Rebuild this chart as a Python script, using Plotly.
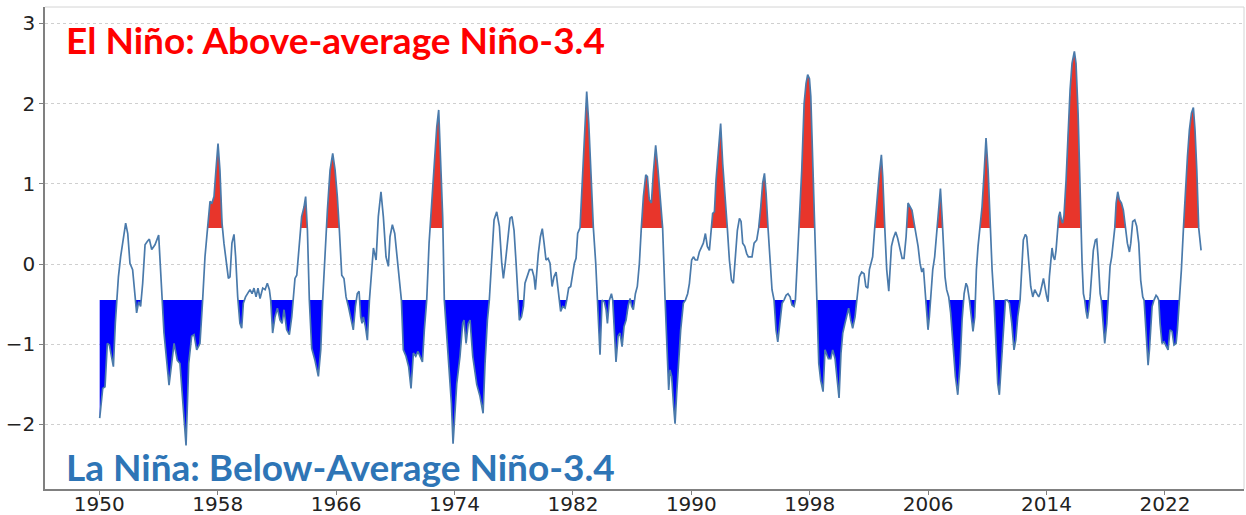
import numpy as np
import plotly.graph_objects as go

# Monthly-ish Niño-3.4 anomaly (°C), read in six stretches
years_a = [1950.025, 1950.23, 1950.385, 1950.54, 1950.68, 1950.95, 1951.08, 1951.29, 1951.44, 1951.58,
           1951.78, 1951.92, 1952.07, 1952.25, 1952.39, 1952.52, 1952.66, 1952.79, 1952.93, 1953.09,
           1953.24, 1953.38, 1953.54, 1953.76, 1954.01, 1954.1, 1954.24, 1954.37, 1954.71, 1954.89,
           1955.05, 1955.27, 1955.45, 1955.86, 1956.04, 1956.24, 1956.4, 1956.58, 1956.8, 1956.98,
           1957.14, 1957.3, 1957.48, 1957.61, 1957.75, 1957.88, 1958.02, 1958.15, 1958.29, 1958.42,
           1958.6, 1958.72, 1958.83, 1958.96, 1959.1, 1959.21, 1959.35, 1959.5, 1959.62, 1959.73,
           1959.88, 1959.99, 1960.18, 1960.32, 1960.45, 1960.59, 1960.72, 1960.86, 1961.04, 1961.2,
           1961.35, 1961.49, 1961.58, 1961.71, 1961.87, 1962.03, 1962.21, 1962.35, 1962.48, 1962.66,
           1962.84]
anom_a = [-1.92, -1.55, -1.53, -0.99, -1.01, -1.28, -0.74, -0.16, 0.09, 0.26,
          0.51, 0.38, 0.01, -0.07, -0.41, -0.61, -0.47, -0.53, -0.24, 0.24,
          0.28, 0.31, 0.18, 0.24, 0.36, 0.01, -0.45, -0.86, -1.51, -1.20,
          -0.99, -1.20, -1.24, -2.26, -1.24, -0.90, -0.88, -1.07, -0.99, -0.45,
          0.09, 0.42, 0.78, 0.76, 0.84, 1.17, 1.50, 1.17, 0.51, 0.26,
          -0.03, -0.18, -0.16, 0.26, 0.37, 0.09, -0.41, -0.74, -0.80, -0.49,
          -0.41, -0.37, -0.32, -0.37, -0.30, -0.41, -0.30, -0.43, -0.30, -0.32,
          -0.24, -0.32, -0.45, -0.86, -0.66, -0.55, -0.70, -0.74, -0.57, -0.82,
          -0.88]

years_b = [1963.0, 1963.11, 1963.22, 1963.34, 1963.45, 1963.56, 1963.67, 1963.83, 1963.94, 1964.06,
           1964.19, 1964.35, 1964.57, 1964.8, 1964.96, 1965.09, 1965.25, 1965.41, 1965.59, 1965.77,
           1965.93, 1966.08, 1966.22, 1966.38, 1966.53, 1966.67, 1966.83, 1966.98, 1967.16, 1967.3,
           1967.43, 1967.55, 1967.66, 1967.75, 1967.84, 1967.98, 1968.11, 1968.25, 1968.38, 1968.52,
           1968.7, 1968.85, 1969.03, 1969.19, 1969.37, 1969.53, 1969.64, 1969.8, 1969.96, 1970.14,
           1970.27, 1970.41, 1970.54, 1970.72, 1970.9, 1971.06, 1971.22, 1971.38, 1971.53, 1971.67,
           1971.83, 1971.96, 1972.12, 1972.28, 1972.46, 1972.62, 1972.8, 1972.93, 1973.07, 1973.2,
           1973.31, 1973.47, 1973.65, 1973.79, 1973.9, 1974.01, 1974.15, 1974.37, 1974.55, 1974.64,
           1974.78, 1974.93, 1975.05, 1975.23, 1975.5]
anom_b = [-0.66, -0.41, -0.18, -0.14, 0.09, 0.42, 0.59, 0.71, 0.84, 0.42,
          -0.45, -1.05, -1.20, -1.40, -1.07, -0.45, 0.17, 0.67, 1.17, 1.38,
          1.17, 0.84, 0.42, -0.14, -0.18, -0.41, -0.53, -0.66, -0.82, -0.53,
          -0.37, -0.34, -0.66, -0.74, -0.66, -0.78, -0.95, -0.45, -0.07, 0.20,
          0.05, 0.59, 0.90, 0.59, 0.09, -0.03, 0.34, 0.49, 0.38, 0.01,
          -0.24, -0.45, -1.07, -1.15, -1.28, -1.55, -1.11, -1.15, -1.09, -1.15,
          -1.22, -0.82, -0.45, 0.26, 0.80, 1.25, 1.71, 1.92, 1.25, 0.59,
          -0.45, -0.90, -1.28, -1.74, -2.24, -1.86, -1.49, -1.15, -0.74, -0.70,
          -0.99, -0.74, -0.70, -1.15, -1.50]

years_c = [1975.72, 1975.93, 1976.06, 1976.22, 1976.35, 1976.51, 1976.67, 1976.85, 1977.03, 1977.19,
           1977.3, 1977.43, 1977.57, 1977.75, 1977.88, 1978.02, 1978.16, 1978.27, 1978.38, 1978.52,
           1978.65, 1978.76, 1978.92, 1979.06, 1979.24, 1979.37, 1979.46, 1979.55, 1979.66, 1979.8,
           1979.93, 1980.05, 1980.18, 1980.32, 1980.45, 1980.59, 1980.72, 1980.86, 1980.99, 1981.08,
           1981.17, 1981.31, 1981.47, 1981.58, 1981.71, 1981.85, 1981.96, 1982.1, 1982.21, 1982.32,
           1982.48, 1982.61, 1982.75, 1982.93, 1983.07, 1983.22, 1983.38, 1983.54, 1983.65, 1983.83,
           1983.97, 1984.12, 1984.24, 1984.33, 1984.46, 1984.6, 1984.69, 1984.8, 1984.91, 1985.05,
           1985.18, 1985.32, 1985.45, 1985.59, 1985.72, 1985.86, 1985.97, 1986.08, 1986.22, 1986.35,
           1986.49, 1986.62, 1986.76, 1986.92, 1987.03, 1987.16, 1987.3, 1987.43, 1987.59, 1987.75,
           1987.93, 1988.06, 1988.22, 1988.38, 1988.47]
anom_c = [-1.65, -1.86, -1.24, -0.70, -0.45, 0.09, 0.55, 0.65, 0.47, 0.01,
          -0.18, 0.01, 0.26, 0.57, 0.59, 0.42, 0.01, -0.45, -0.70, -0.66,
          -0.53, -0.24, -0.14, -0.07, -0.07, -0.16, -0.32, -0.07, 0.13, 0.34,
          0.44, 0.26, 0.05, 0.07, 0.01, -0.28, -0.16, -0.10, -0.28, -0.45,
          -0.59, -0.53, -0.55, -0.45, -0.30, -0.28, -0.16, 0.01, 0.07, 0.38,
          0.45, 0.92, 1.59, 2.15, 1.75, 1.09, 0.45, 0.01, -0.45, -1.13,
          -0.45, -0.47, -0.57, -0.74, -0.45, -0.37, -0.45, -0.82, -1.22, -0.90,
          -0.86, -1.03, -0.78, -0.70, -0.53, -0.43, -0.53, -0.57, -0.37, -0.28,
          0.01, 0.45, 0.84, 1.11, 1.09, 0.80, 0.76, 1.13, 1.48, 1.17,
          0.76, 0.45, -0.41, -1.24, -1.57]

years_d = [1988.56, 1988.67, 1988.79, 1988.9, 1989.01, 1989.15, 1989.28, 1989.46, 1989.6, 1989.75,
           1989.87, 1990.02, 1990.14, 1990.27, 1990.41, 1990.54, 1990.68, 1990.81, 1990.95, 1991.08,
           1991.22, 1991.31, 1991.44, 1991.56, 1991.67, 1991.85, 1991.98, 1992.12, 1992.28, 1992.43,
           1992.57, 1992.71, 1992.84, 1992.98, 1993.11, 1993.25, 1993.36, 1993.47, 1993.61, 1993.74,
           1993.85, 1994.1, 1994.24, 1994.42, 1994.55, 1994.69, 1994.82, 1994.94, 1995.05, 1995.18,
           1995.32, 1995.45, 1995.59, 1995.72, 1995.84, 1995.99, 1996.13, 1996.26, 1996.4, 1996.53,
           1996.67, 1996.8, 1996.94, 1997.03, 1997.16, 1997.3, 1997.46, 1997.62, 1997.75, 1997.86,
           1997.98, 1998.07, 1998.2, 1998.34, 1998.47, 1998.61, 1998.74, 1998.9, 1999.03, 1999.15,
           1999.26, 1999.42, 1999.55, 1999.71, 1999.87, 1999.98, 2000.11, 2000.23, 2000.38, 2000.5,
           2000.63, 2000.77, 2000.9, 2001.06, 2001.17, 2001.35]
anom_d = [-1.32, -1.40, -1.74, -1.99, -1.61, -1.16, -0.82, -0.49, -0.45, -0.37,
          -0.24, 0.05, 0.09, 0.05, 0.05, 0.15, 0.20, 0.26, 0.38, 0.22,
          0.17, 0.38, 0.63, 0.65, 1.05, 1.46, 1.75, 1.25, 0.76, 0.45,
          0.05, -0.20, -0.24, 0.05, 0.42, 0.57, 0.53, 0.26, 0.22, 0.13,
          0.09, 0.09, 0.26, 0.30, 0.45, 0.71, 1.01, 1.13, 0.88, 0.45,
          0.01, -0.32, -0.45, -0.82, -0.97, -0.74, -0.49, -0.45, -0.39, -0.37,
          -0.41, -0.51, -0.53, -0.45, 0.01, 0.45, 1.17, 2.00, 2.25, 2.36,
          2.31, 2.09, 1.34, 0.45, -0.45, -1.24, -1.45, -1.59, -1.07, -1.13,
          -1.18, -1.18, -1.07, -1.18, -1.49, -1.67, -1.11, -0.86, -0.74, -0.66,
          -0.55, -0.70, -0.80, -0.66, -0.45, -0.16]

years_e = [2001.51, 2001.67, 2001.79, 2001.92, 2002.03, 2002.16, 2002.25, 2002.39, 2002.52, 2002.7,
           2002.84, 2002.93, 2003.07, 2003.2, 2003.34, 2003.43, 2003.52, 2003.65, 2003.81, 2003.94,
           2004.1, 2004.24, 2004.37, 2004.51, 2004.64, 2004.78, 2004.91, 2005.05, 2005.18, 2005.32,
           2005.45, 2005.57, 2005.68, 2005.81, 2005.9, 2005.99, 2006.08, 2006.17, 2006.31, 2006.44,
           2006.58, 2006.69, 2006.83, 2006.94, 2007.03, 2007.14, 2007.25, 2007.39, 2007.52, 2007.71,
           2007.84, 2008.0, 2008.16, 2008.29, 2008.43, 2008.56, 2008.65, 2008.79, 2008.92, 2009.03,
           2009.15, 2009.26, 2009.37, 2009.51, 2009.64, 2009.78, 2009.91, 2010.05, 2010.18, 2010.32,
           2010.45, 2010.59, 2010.7, 2010.81, 2010.95, 2011.08, 2011.22, 2011.35, 2011.49, 2011.65,
           2011.8, 2011.92, 2012.05, 2012.21, 2012.32, 2012.43, 2012.57, 2012.66, 2012.77, 2012.93,
           2013.07, 2013.2, 2013.34, 2013.47]
anom_e = [-0.10, -0.12, -0.28, -0.30, -0.07, 0.01, 0.09, 0.45, 0.76, 1.13,
          1.36, 1.09, 0.45, -0.07, -0.34, -0.12, 0.22, 0.32, 0.40, 0.32,
          0.17, 0.07, 0.07, 0.34, 0.76, 0.71, 0.67, 0.51, 0.36, 0.22,
          0.01, -0.10, -0.05, -0.41, -0.66, -0.82, -0.66, -0.41, -0.07, 0.09,
          0.42, 0.59, 0.94, 0.59, 0.17, -0.16, -0.32, -0.41, -0.61, -1.03,
          -1.40, -1.63, -1.24, -0.70, -0.37, -0.24, -0.28, -0.45, -0.66, -0.84,
          -0.66, -0.07, 0.22, 0.45, 0.71, 1.13, 1.57, 1.17, 0.45, -0.07,
          -0.45, -1.07, -1.49, -1.63, -1.24, -0.74, -0.45, -0.45, -0.49, -0.74,
          -1.07, -0.95, -0.66, -0.45, 0.01, 0.30, 0.37, 0.34, 0.09, -0.28,
          -0.41, -0.32, -0.37, -0.41]

years_f = [2013.56, 2013.79, 2014.01, 2014.1, 2014.19, 2014.28, 2014.37, 2014.46, 2014.55, 2014.64,
           2014.73, 2014.82, 2014.91, 2015.0, 2015.09, 2015.18, 2015.32, 2015.45, 2015.59, 2015.72,
           2015.88, 2015.99, 2016.13, 2016.22, 2016.31, 2016.4, 2016.49, 2016.58, 2016.67, 2016.76,
           2016.85, 2016.94, 2017.05, 2017.16, 2017.3, 2017.39, 2017.48, 2017.62, 2017.7, 2017.8,
           2017.93, 2018.07, 2018.18, 2018.29, 2018.4, 2018.52, 2018.61, 2018.7, 2018.81, 2018.92,
           2019.06, 2019.19, 2019.33, 2019.46, 2019.6, 2019.69, 2019.82, 2019.96, 2020.09, 2020.23,
           2020.36, 2020.5, 2020.59, 2020.68, 2020.77, 2020.86, 2020.95, 2021.04, 2021.13, 2021.26,
           2021.4, 2021.49, 2021.58, 2021.67, 2021.8, 2021.94, 2022.07, 2022.21, 2022.34, 2022.48,
           2022.61, 2022.75, 2022.84, 2022.98, 2023.11, 2023.25, 2023.38, 2023.52, 2023.65, 2023.79,
           2023.92, 2024.03, 2024.15, 2024.28, 2024.44]
anom_f = [-0.37, -0.18, -0.41, -0.47, -0.16, 0.05, 0.20, 0.09, 0.05, 0.17,
          0.45, 0.59, 0.65, 0.55, 0.51, 0.61, 1.05, 1.67, 2.17, 2.50,
          2.65, 2.50, 1.88, 1.25, 0.45, 0.01, -0.37, -0.45, -0.59, -0.68,
          -0.57, -0.41, -0.12, 0.17, 0.30, 0.31, 0.09, -0.37, -0.45, -0.74,
          -0.99, -0.74, -0.45, -0.03, 0.09, 0.26, 0.45, 0.76, 0.90, 0.80,
          0.76, 0.67, 0.45, 0.26, 0.15, 0.26, 0.53, 0.55, 0.47, 0.26,
          -0.20, -0.41, -0.45, -0.74, -1.07, -1.26, -1.07, -0.74, -0.53, -0.45,
          -0.39, -0.41, -0.45, -0.74, -0.99, -0.97, -1.03, -1.07, -0.82, -0.84,
          -1.01, -0.99, -0.82, -0.45, -0.07, 0.45, 0.92, 1.34, 1.67, 1.88,
          1.95, 1.67, 1.17, 0.45, 0.17]

# El Niño episodes that get the red shading (start, end as decimal years)
el_nino_start = [1957.2, 1963.5, 1965.2, 1972.2, 1982.3, 1986.5, 1991.3, 1994.5, 1997.2,
                 2002.3, 2004.5, 2006.6, 2009.4, 2014.6, 2018.5, 2023.2]
el_nino_end = [1958.4, 1964.1, 1966.3, 1973.3, 1983.5, 1988.1, 1992.5, 1995.2, 1998.4,
               2003.1, 2005.1, 2007.0, 2010.2, 2016.4, 2019.4, 2024.3]

tick_years = [1950, 1958, 1966, 1974, 1982, 1990, 1998, 2006, 2014, 2022]
y_ticks = [-2, -1, 0, 1, 2, 3]

EL_NINO_LEVEL = 0.45
LA_NINA_LEVEL = -0.45

years = np.array(years_a + years_b + years_c + years_d + years_e + years_f)
anom = np.array(anom_a + anom_b + anom_c + anom_d + anom_e + anom_f)


def split_at_level(x, y, level):
    """Add the points where the polyline crosses a horizontal level."""
    xs, ys = [x[0]], [y[0]]
    for i in range(1, len(x)):
        y0, y1 = y[i - 1], y[i]
        if (y0 - level) * (y1 - level) < 0:
            t = (level - y0) / (y1 - y0)
            xs.append(x[i - 1] + t * (x[i] - x[i - 1]))
            ys.append(level)
        xs.append(x[i])
        ys.append(y[i])
    return np.array(xs), np.array(ys)


def band(x, y, level, above, windows=None):
    """Closed polygons between the series and a level, one per excursion."""
    xx, yy = split_at_level(x, y, level)
    eps = 1e-9
    mask = yy >= level - eps if above else yy <= level + eps
    px, py = [], []
    i, n = 0, len(xx)
    while i < n:
        if mask[i]:
            j = i
            while j + 1 < n and mask[j + 1]:
                j += 1
            if j > i:
                sx = list(xx[i:j + 1])
                sy = list(yy[i:j + 1])
                mid = 0.5 * (sx[0] + sx[-1])
                keep = windows is None or any(a <= mid <= b for a, b in windows)
                if keep:
                    px += sx + sx[::-1] + [None]
                    py += sy + [level] * len(sx) + [None]
            i = j + 1
        else:
            i += 1
    return px, py


fig = go.Figure()

rx, ry = band(years, anom, EL_NINO_LEVEL, True,
              windows=list(zip(el_nino_start, el_nino_end)))
fig.add_trace(go.Scatter(x=rx, y=ry, mode="lines", fill="toself",
                         fillcolor="#e8352b", line=dict(width=0),
                         hoverinfo="skip", showlegend=False))

bx, by = band(years, anom, LA_NINA_LEVEL, False)
fig.add_trace(go.Scatter(x=bx, y=by, mode="lines", fill="toself",
                         fillcolor="#0000ff", line=dict(width=0),
                         hoverinfo="skip", showlegend=False))

fig.add_trace(go.Scatter(x=years, y=anom, mode="lines",
                         line=dict(color="#4a7aab", width=1.7),
                         showlegend=False))

tick_font = dict(family="DejaVu Sans", size=20, color="#222222")

fig.update_xaxes(
    range=[1946.33, 2027.34], automargin=False,
    tickmode="array", tickvals=tick_years, ticktext=[str(t) for t in tick_years],
    showgrid=False, zeroline=False,
    showline=True, linecolor="#808080", linewidth=1.5,
    ticks="outside", ticklen=4, tickcolor="#808080", tickwidth=1,
    ticklabelstandoff=-8,
    tickfont=tick_font,
)
fig.update_yaxes(
    range=[-2.804, 3.203], automargin=False,
    tickmode="array", tickvals=y_ticks,
    showgrid=True, gridcolor="#cfcfcf", griddash="dot", gridwidth=1,
    zeroline=False,
    showline=True, linecolor="#808080", linewidth=1.5,
    ticks="outside", ticklen=4, tickcolor="#808080", tickwidth=1,
    tickfont=tick_font,
)

# faint frame on top and right
fig.add_shape(type="line", xref="paper", yref="paper", x0=0, x1=1, y0=1, y1=1,
              line=dict(color="#d4d4d4", width=1))
fig.add_shape(type="line", xref="paper", yref="paper", x0=1, x1=1, y0=0, y1=1,
              line=dict(color="#d4d4d4", width=1))

fig.add_annotation(text="El Niño: Above-average Niño-3.4",
                   xref="paper", yref="paper", x=0.0158, y=0.9336,
                   xanchor="left", yanchor="middle", showarrow=False,
                   font=dict(family="Lato", size=37, color="#ff0000", weight="bold"))
fig.add_annotation(text="La Niña: Below-Average Niño-3.4",
                   xref="paper", yref="paper", x=0.0158, y=0.047,
                   xanchor="left", yanchor="middle", showarrow=False,
                   font=dict(family="Lato", size=37, color="#2e75b6", weight="bold"))

fig.update_layout(
    width=1246, height=515,
    margin=dict(l=45, r=2, t=7, b=26, autoexpand=False),
    paper_bgcolor="white", plot_bgcolor="white",
)

fig.write_html("out.html")
